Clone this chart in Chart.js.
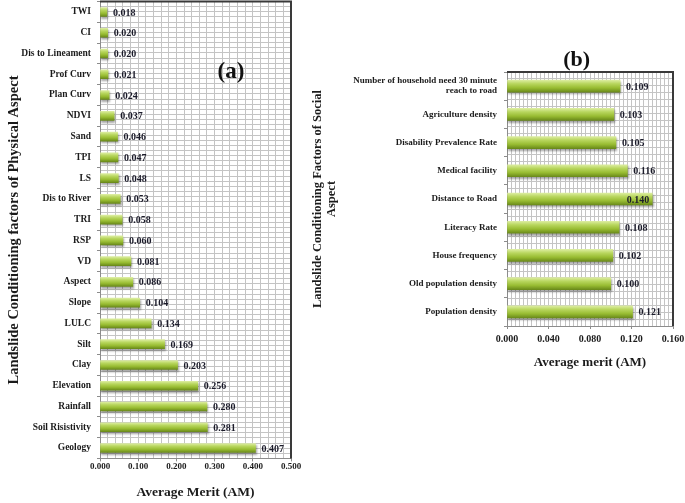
<!DOCTYPE html>
<html lang="en">
<head>
<meta charset="UTF-8">
<title>Landslide Conditioning Factors - Average Merit</title>
<script src="https://cdn.jsdelivr.net/npm/chart.js@4.4.1/dist/chart.umd.min.js"></script>
<style>
  body { margin: 0; background: #fff; }
  #wrap { position: relative; width: 685px; height: 503px; }
  canvas { position: absolute; top: 0; }
  #physical { left: 0; }
  #social { left: 300px; }
</style>
</head>
<body>
<div id="wrap">
  <canvas id="physical" width="310" height="503"></canvas>
  <canvas id="social" width="385" height="503"></canvas>
</div>
<script>
// (a) physical aspect
const physicalFactors = ['TWI', 'CI', 'Dis to Lineament', 'Prof Curv', 'Plan Curv', 'NDVI', 'Sand', 'TPI', 'LS',
  'Dis to River', 'TRI', 'RSP', 'VD', 'Aspect', 'Slope', 'LULC', 'Silt', 'Clay', 'Elevation', 'Rainfall',
  'Soil Risistivity', 'Geology'];
const physicalMerit = [0.018, 0.020, 0.020, 0.021, 0.024, 0.037, 0.046, 0.047, 0.048, 0.053, 0.058, 0.060,
  0.081, 0.086, 0.104, 0.134, 0.169, 0.203, 0.256, 0.280, 0.281, 0.407];
const physicalTicks = [0, 0.1, 0.2, 0.3, 0.4, 0.5];

// (b) social aspect
const socialFactors = [['Number of household need 30 minute', 'reach to road'], 'Agriculture density',
  'Disability Prevalence Rate', 'Medical facility', 'Distance to Road', 'Literacy Rate', 'House frequency',
  'Old population density', 'Population density'];
const socialMerit = [0.109, 0.103, 0.105, 0.116, 0.140, 0.108, 0.102, 0.100, 0.121];
const socialTicks = [0, 0.04, 0.08, 0.12, 0.16];

const serif = '"Liberation Serif", "Times New Roman", serif';
Chart.defaults.font.family = serif;
Chart.defaults.font.weight = 'bold';
Chart.defaults.color = '#1b1b1b';

function barFill(h) {
  return ctx => {
    const chart = ctx.chart;
    if (!chart.chartArea || ctx.type !== 'data') return '#a6c93e';
    const y = chart.scales.y.getPixelForValue(ctx.dataIndex);
    const g = chart.ctx.createLinearGradient(0, y - h / 2, 0, y + h / 2);
    g.addColorStop(0, '#dceda0');
    g.addColorStop(0.3, '#b8d65e');
    g.addColorStop(0.65, '#98bc32');
    g.addColorStop(1, '#6a8a1a');
    return g;
  };
}

const shade = {
  id: 'shade',
  beforeDatasetsDraw(chart) {
    const c = chart.ctx;
    c.save();
    c.shadowColor = 'rgba(0,0,0,0.35)';
    c.shadowOffsetX = 1;
    c.shadowOffsetY = 2;
    c.shadowBlur = 2;
  },
  afterDatasetsDraw(chart) {
    chart.ctx.restore();
  }
};

const valueLabels = {
  id: 'valueLabels',
  afterDatasetsDraw(chart, args, opts) {
    const c = chart.ctx, area = chart.chartArea;
    c.save();
    c.font = `bold ${opts.size}px ${serif}`;
    c.fillStyle = '#1b1b2a';
    c.textBaseline = 'middle';
    chart.getDatasetMeta(0).data.forEach((bar, i) => {
      const txt = chart.data.datasets[0].data[i].toFixed(3);
      const w = c.measureText(txt).width;
      let x = bar.x + 6;
      c.textAlign = 'left';
      if (x + w > area.right - 2) { x = bar.x - 3; c.textAlign = 'right'; }
      c.fillText(txt, x, bar.y + 1);
    });
    c.restore();
  }
};

// dark top/right edge of the plot frame + panel letter
const frame = {
  id: 'frame',
  afterDraw(chart, args, opts) {
    const c = chart.ctx, a = chart.chartArea;
    c.save();
    c.strokeStyle = '#3a3a3a';
    c.lineWidth = 2;
    c.beginPath();
    c.moveTo(a.left, a.top);
    c.lineTo(a.right, a.top);
    c.lineTo(a.right, a.bottom);
    c.stroke();
    c.font = `bold ${opts.size}px ${serif}`;
    c.fillStyle = '#111';
    c.textAlign = 'center';
    c.textBaseline = 'middle';
    c.fillText(opts.text, a.left + a.width * opts.xFrac, a.top + opts.dy);
    c.restore();
  }
};

function makeChart(id, cfg) {
  const n = cfg.labels.length;
  const ticks = cfg.ticks;
  return new Chart(document.getElementById(id), {
    type: 'bar',
    data: {
      labels: cfg.labels,
      datasets: [{
        data: cfg.values,
        backgroundColor: barFill(cfg.barH),
        borderWidth: 0,
        barThickness: cfg.barH
      }]
    },
    options: {
      indexAxis: 'y',
      responsive: false,
      animation: false,
      events: [],
      layout: { padding: cfg.padding },
      scales: {
        x: {
          min: ticks[0], max: ticks[ticks.length - 1],
          border: { color: '#8c8c8c' },
          grid: { drawOnChartArea: false, tickLength: 3, color: '#8c8c8c' },
          ticks: {
            stepSize: ticks[1] - ticks[0], padding: cfg.xTickPad,
            font: { size: cfg.xTickSize, lineHeight: 1 },
            callback: v => v.toFixed(3)
          },
          title: { display: true, text: cfg.xTitle, font: { size: cfg.xTitleSize }, padding: { top: 0, bottom: cfg.xTitlePad } },
          afterFit: s => { s.height = cfg.xHeight; s.paddingLeft = 0; s.paddingRight = 0; }
        },
        xg: {
          type: 'linear', position: 'bottom',
          min: ticks[0], max: ticks[ticks.length - 1],
          border: { display: false },
          grid: { color: '#c4c4c4', drawTicks: false },
          ticks: { display: false, stepSize: cfg.minorStep },
          afterFit: s => { s.height = 0; s.paddingLeft = 0; s.paddingRight = 0; }
        },
        y: {
          border: { color: '#8c8c8c' },
          grid: { drawOnChartArea: false, tickLength: 3, color: '#8c8c8c', offset: true },
          ticks: { padding: cfg.yTickPad, font: { size: cfg.yTickSize, lineHeight: 1.1 } },
          title: {
            display: true, text: cfg.yTitle,
            font: { size: cfg.yTitleSize, lineHeight: 1.1 }, padding: { top: cfg.yTitlePad, bottom: 0 }
          },
          afterFit: s => { s.width = cfg.yWidth; s.paddingTop = 0; s.paddingBottom = 0; }
        },
        yg: {
          type: 'linear', position: 'left', reverse: true,
          min: -0.5, max: n - 0.5,
          border: { display: false },
          grid: { color: '#c4c4c4', drawTicks: false },
          ticks: { display: false, stepSize: 0.25 },
          afterFit: s => { s.width = 0; s.paddingTop = 0; s.paddingBottom = 0; }
        }
      },
      plugins: {
        legend: { display: false },
        tooltip: { enabled: false },
        valueLabels: { size: 10 },
        frame: cfg.letter
      }
    },
    plugins: [shade, valueLabels, frame]
  });
}

makeChart('physical', {
  labels: physicalFactors, values: physicalMerit, ticks: physicalTicks, minorStep: 0.02,
  barH: 9, padding: { top: 1.6, right: 19, bottom: 0, left: 0 },
  xHeight: 44.6, xTickPad: 1, xTickSize: 9, xTitle: 'Average Merit (AM)', xTitleSize: 13.5, xTitlePad: 2,
  yWidth: 100, yTickPad: 6, yTickSize: 9.5,
  yTitle: 'Landslide Conditioning factors of Physical Aspect', yTitleSize: 14.5, yTitlePad: 6,
  letter: { text: '(a)', size: 23, xFrac: 0.686, dy: 70 }
});

makeChart('social', {
  labels: socialFactors, values: socialMerit, ticks: socialTicks, minorStep: 0.004,
  barH: 12, padding: { top: 72, right: 12, bottom: 128, left: 0 },
  xHeight: 49, xTickPad: 5, xTickSize: 10, xTitle: 'Average merit (AM)', xTitleSize: 13, xTitlePad: 5,
  yWidth: 207, yTickPad: 7, yTickSize: 9,
  yTitle: ['Landslide Conditioning Factors of Social', 'Aspect'], yTitleSize: 12.5, yTitlePad: 11,
  letter: { text: '(b)', size: 22, xFrac: 0.42, dy: -12 }
});
</script>
</body>
</html>
